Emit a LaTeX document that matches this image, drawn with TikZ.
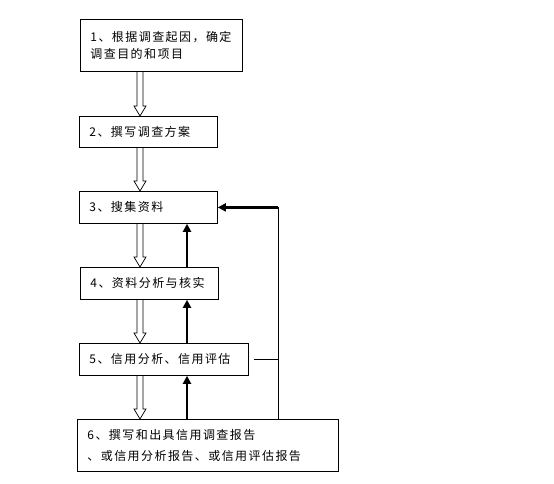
\documentclass[tikz,border=0pt]{standalone}
\usepackage{fontspec}
\setmainfont{Noto Sans CJK SC}[LetterSpace=12]
\usetikzlibrary{calc,arrows.meta}
\tikzset{
  box/.style={draw,line width=0.8pt,anchor=north west,inner xsep=10pt,inner ysep=0pt,align=left,font=\fontsize{12}{17}\selectfont},
  hollow/.style={draw,line width=0.7pt,to path={let \p1=(\tikztostart),\p2=(\tikztotarget) in
    (\x1-3pt,\y1)--(\x1-3pt,\y2+10pt)--(\x1-6pt,\y2+10pt)--(\x1,\y2)--(\x1+6pt,\y2+10pt)--(\x1+3pt,\y2+10pt)--(\x1+3pt,\y1)}},
  back/.style={line width=2.5pt,-{Triangle[width=8pt,length=8pt]}},
  thin/.style={line width=0.8pt}
}
\begin{document}
\begin{tikzpicture}[x=1pt,y=-1pt]
    \useasboundingbox (0,0) rectangle (554,484);
    % steps
    \node[box,text width=142pt,minimum height=52pt] (b1) at (80,19) {1、根据调查起因，确定\\调查目的和项目};
    \node[box,text width=118pt,minimum height=31pt] (b2) at (79,116) {2、撰写调查方案};
    \node[box,text width=118pt,minimum height=32pt] (b3) at (79,191) {3、搜集资料};
    \node[box,text width=118pt,minimum height=32pt] (b4) at (80,267) {4、资料分析与核实};
    \node[box,text width=149pt,minimum height=32pt] (b5) at (79,343) {5、信用分析、信用评估};
    \node[box,text width=241pt,minimum height=52pt,font=\fontsize{12}{21}\selectfont] (b6) at (77,419) {6、撰写和出具信用调查报告\\、或信用分析报告、或信用评估报告};
    \coordinate (hx) at (140,0);
    \coordinate (tx) at (187,0);
    \coordinate (fb) at (278,0);
    % forward
    \draw[hollow] (b1.south -| hx) to (b2.north -| hx);
    \draw[hollow] (b2.south -| hx) to (b3.north -| hx);
    \draw[hollow] (b3.south -| hx) to (b4.north -| hx);
    \draw[hollow] (b4.south -| hx) to (b5.north -| hx);
    \draw[hollow] (b5.south -| hx) to (b6.north -| hx);
    % back
    \draw[back] (b4.north -| tx) -- (b3.south -| tx);
    \draw[back] (b5.north -| tx) -- (b4.south -| tx);
    \draw[back] (b6.north -| tx) -- (b5.south -| tx);
    \draw[thin] (b6.north -| fb) -- (fb |- b3.east);
    \draw[thin] ([xshift=5pt]b5.east) -- (b5.east -| fb);
    \draw[back] (fb |- b3.east) -- (b3.east);
\end{tikzpicture}
\end{document}
